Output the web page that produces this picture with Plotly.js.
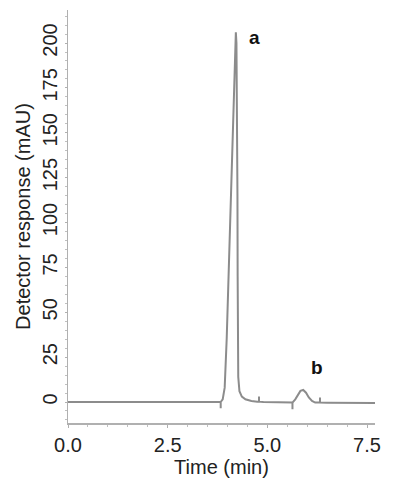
<!DOCTYPE html>
<html>
<head>
<meta charset="utf-8">
<script src="https://cdn.plot.ly/plotly-3.0.1.min.js"></script>
<style>html,body{margin:0;padding:0;background:#fff;}#chart{width:394px;height:478px;}</style>
</head>
<body>
<div id="chart"></div>
<script>
// Retention time (min)
var time = [0, 1, 2, 3, 3.5, 3.8, 3.83, 3.83, 3.83, 3.88, 3.93, 3.98, 4.03, 4.085, 4.15, 4.19, 4.21, 4.225, 4.24, 4.25, 4.255, 4.26, 4.27, 4.3, 4.36, 4.45, 4.6, 4.75, 4.79, 4.79, 4.79, 4.9, 5.3, 5.63, 5.63, 5.63, 5.7, 5.76, 5.83, 5.9, 5.97, 6.04, 6.12, 6.2, 6.32, 6.32, 6.32, 6.5, 7.0, 7.7];
// Detector response (mAU)
var response = [0, 0, -0.1, -0.2, -0.2, -0.1, 0, -3.5, 0, 1.5, 8, 35, 72, 113, 165, 196, 206, 200, 165, 115, 70, 35, 14, 6, 3, 1.5, 0.6, 0.2, 0.2, 3, 0.2, 0, -0.3, -0.3, -4, -0.3, 1.5, 4, 6.2, 6.7, 5.2, 2.5, 0.6, -0.3, -0.3, 2.5, -0.3, -0.4, -0.5, -0.5];
// Peak labels
var peakLabels = ["a", "b"];
var peakLabelX = [4.69, 6.24];
var peakLabelY = [203, 19];
var xTicks = [0, 2.5, 5, 7.5];
var xTickText = ["0.0", "2.5", "5.0", "7.5"];
var yTicks = [0, 25, 50, 75, 100, 125, 150, 175, 200];

var trace = {
  x: time, y: response, type: "scatter", mode: "lines",
  line: {color: "#8c8c8c", width: 2}, hoverinfo: "skip"
};

var annotations = peakLabels.map(function (t, i) {
  return {x: peakLabelX[i], y: peakLabelY[i], xref: "x", yref: "y", text: t,
    showarrow: false, font: {family: "Liberation Sans Narrow, Liberation Sans, Arial, sans-serif", size: 19, color: "#111", weight: "bold"}};
});

var layout = {
  width: 394, height: 478,
  margin: {l: 68, r: 19, t: 10, b: 55},
  paper_bgcolor: "#fff", plot_bgcolor: "#fff",
  showlegend: false,
  font: {family: "Liberation Sans, Arial, sans-serif", color: "#222"},
  xaxis: {
    range: [0, 7.7], tickvals: xTicks, ticktext: xTickText,
    showgrid: false, zeroline: false, showline: true, linecolor: "#b0b0b0", linewidth: 1.5,
    ticks: "outside", ticklen: 3, tickcolor: "#b0b0b0",
    minor: {dtick: 0.5, ticks: "outside", ticklen: 2, tickcolor: "#c0c0c0"},
    tickfont: {size: 20, color: "#222"},
    title: {text: "Time (min)", font: {size: 20, color: "#222"}, standoff: 0}
  },
  yaxis: {
    range: [-11.7, 218.4], tickvals: yTicks, tickangle: -90,
    showgrid: false, zeroline: false, showline: true, linecolor: "#b0b0b0", linewidth: 1.5,
    ticks: "outside", ticklen: 2, tickcolor: "#b0b0b0",
    minor: {dtick: 5, ticks: "outside", ticklen: 2, tickcolor: "#c0c0c0"},
    tickfont: {size: 20, color: "#222"},
    title: {text: "Detector response (mAU)", font: {size: 20, color: "#222"}, standoff: 2}
  },
  annotations: annotations
};

Plotly.newPlot("chart", [trace], layout, {displayModeBar: false, staticPlot: true});
</script>
</body>
</html>
